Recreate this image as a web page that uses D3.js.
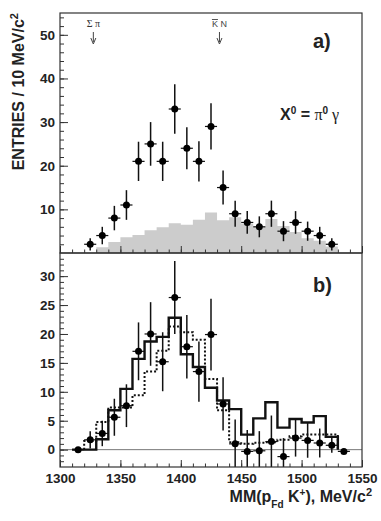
<!DOCTYPE html>
<html>
<head>
<meta charset="utf-8">
<script src="https://cdn.jsdelivr.net/npm/d3@7"></script>
<style>
  body { margin: 0; background: #fff; }
  svg { display: block; }
</style>
</head>
<body>
<div class="graph"></div>
<script>
// panel a) : data points (bin centres, entries, errors)
const aMass = [1325,1335,1345,1355,1365,1375,1385,1395,1405,1415,1425,1435,1445,1455,1465,1475,1485,1495,1505,1515,1525];
const aCounts = [2,4,8,11,21,25,21,33,24,21,29,15,9,7,6,9,5,7,5,4,2];
const aErrors = [1.4,2,2.8,3.4,4.5,5,4.5,5.7,4.8,4.6,5.3,3.9,3,2.6,2.4,3,2.3,2.6,2.2,2,1.4];

// panel a) : grey background histogram (bin low edges, contents)
const bgEdges = [1330,1340,1350,1360,1370,1380,1390,1400,1410,1420,1430,1440,1450,1460,1470,1480,1490,1500,1510,1520];
const bgValues = [1.3,2.5,3.6,4.1,5.2,5.9,6.8,6.5,7.6,9.3,7.5,8.2,6.7,6.1,7.8,6.2,4.8,3.4,2.8,1.5];

// panel b) : background subtracted points
const bMass = [1315,1325,1335,1345,1355,1365,1375,1385,1395,1405,1415,1425,1435,1445,1455,1465,1475,1485,1495,1505,1515,1525,1535];
const bCounts = [0,1.7,2.8,5.6,7.6,17.0,20.0,15.2,26.3,17.8,13.5,19.9,7.9,1.0,-0.3,-0.2,1.4,-1.2,2.0,1.6,1.15,0.75,-0.3];
const bErrors = [0,1.5,2.2,3.2,3.7,5.0,5.5,5.1,6.3,5.5,5.2,6.2,4.6,4.2,3.7,3.4,4.5,3.2,3.2,3.0,2.5,1.3,0.4];

// panel b) : solid histogram
const solidEdges = [1310,1320,1330,1340,1350,1360,1370,1380,1390,1400,1410,1420,1430,1440,1450,1460,1470,1480,1490,1500,1510,1520];
const solidValues = [0,0,1.8,6.8,10.5,15.7,18.7,19.5,22.8,16.5,14.3,10.7,8.5,7.0,2.6,5.4,8.2,3.8,5.3,4.7,5.8,2.2];

// panel b) : dotted histogram
const dotEdges = [1320,1330,1340,1350,1360,1370,1380,1390,1400,1410,1420,1430,1440,1450,1460,1470,1480,1490,1500,1510,1520];
const dotValues = [1.5,4.8,7.3,7.3,9.4,13.5,17.1,21.3,20.3,19.0,12.2,6.8,1.3,1.0,1.2,1.3,1.7,2.3,2.6,2.6,2.6];

const xTicks = [1300,1350,1400,1450,1500,1550];
const aTicks = [10,20,30,40,50];
const bTicks = [0,5,10,15,20,25,30];
const sigmaPiThr = 1327.6;
const kbarNThr = 1432;

const font = "'Liberation Sans', Arial, Helvetica, sans-serif";
const ink = "#222";

const svg = d3.select(".graph").append("svg").attr("width", 381).attr("height", 521);

const x = d3.scaleLinear().domain([1300, 1550]).range([60, 362]);
const yA = d3.scaleLinear().domain([0, 55]).range([253, 13]);
const yB = d3.scaleLinear().domain([-3, 34]).range([467, 253]).clamp(true);

const stepPoints = (edges, vals) => {
    const p = [[edges[0], 0]];
    edges.forEach((e, i) => p.push([e, vals[i]]));
    p.push([edges[edges.length - 1] + 10, 0]);
    return p;
};

// grey histogram
const bgArea = d3.area()
    .curve(d3.curveStepAfter)
    .x(d => x(d[0]))
    .y0(yA(0))
    .y1(d => yA(d[1]));
svg.append("path")
    .attr("d", bgArea(stepPoints(bgEdges, bgValues).slice(1)))
    .attr("fill", "#cccccc");

// zero line in b
svg.append("line")
    .attr("x1", 60).attr("x2", 362)
    .attr("y1", yB(0)).attr("y2", yB(0))
    .attr("stroke", "#555").attr("stroke-width", 0.8);

const stepLine = (ys) => d3.line().curve(d3.curveStepAfter).x(d => x(d[0])).y(d => ys(d[1]));

svg.append("path")
    .attr("d", stepLine(yB)(stepPoints(dotEdges, dotValues)))
    .attr("fill", "none").attr("stroke", "#111")
    .attr("stroke-width", 2).attr("stroke-dasharray", "2,2");

svg.append("path")
    .attr("d", stepLine(yB)(stepPoints(solidEdges, solidValues)))
    .attr("fill", "none").attr("stroke", "#111")
    .attr("stroke-width", 2.4);

// axes
const styleAxis = (g) => {
    g.select(".domain").remove();
    g.selectAll("line").attr("stroke", "#333");
    g.attr("font-family", font).attr("font-size", 13.5).attr("font-weight", "bold");
    g.selectAll("text").attr("fill", ink);
};

svg.append("g").attr("transform", "translate(60,0)")
    .call(d3.axisLeft(yA).tickValues(d3.range(2, 55, 2)).tickSize(-4).tickFormat(""))
    .call(styleAxis);
svg.append("g").attr("transform", "translate(60,0)")
    .call(d3.axisLeft(yA).tickValues(aTicks).tickSize(-8).tickPadding(5))
    .call(styleAxis);
svg.append("g").attr("transform", "translate(60,0)")
    .call(d3.axisLeft(yB).tickValues(d3.range(-2, 34, 1)).tickSize(-4).tickFormat(""))
    .call(styleAxis);
svg.append("g").attr("transform", "translate(60,0)")
    .call(d3.axisLeft(yB).tickValues(bTicks).tickSize(-8).tickPadding(5))
    .call(styleAxis);

[253, 467].forEach((yy, k) => {
    svg.append("g").attr("transform", "translate(0," + yy + ")")
        .call(d3.axisBottom(x).tickValues(d3.range(1310, 1550, 10)).tickSize(-3.5).tickFormat(""))
        .call(styleAxis);
    const major = d3.axisBottom(x).tickValues(xTicks).tickSize(-7).tickPadding(6)
        .tickFormat(k == 0 ? "" : d3.format("d"));
    svg.append("g").attr("transform", "translate(0," + yy + ")")
        .call(major)
        .call(styleAxis);
});

// data points with error bars
const drawPoints = (ys, xs, vs, es) => {
    const g = svg.append("g");
    xs.forEach((m, i) => {
        g.append("line")
            .attr("x1", x(m)).attr("x2", x(m))
            .attr("y1", ys(vs[i] - es[i])).attr("y2", ys(vs[i] + es[i]))
            .attr("stroke", "#111").attr("stroke-width", 1.5);
        g.append("line")
            .attr("x1", x(m - 5)).attr("x2", x(m + 5))
            .attr("y1", ys(vs[i])).attr("y2", ys(vs[i]))
            .attr("stroke", "#111").attr("stroke-width", 1.2);
        g.append("circle")
            .attr("cx", x(m)).attr("cy", ys(vs[i])).attr("r", 3.5)
            .attr("fill", "#000");
    });
};
drawPoints(yA, aMass, aCounts, aErrors);
drawPoints(yB, bMass, bCounts, bErrors);

// frames
svg.append("rect").attr("x", 60).attr("y", 13).attr("width", 302).attr("height", 240)
    .attr("fill", "none").attr("stroke", "#333").attr("stroke-width", 1.2);
svg.append("rect").attr("x", 60).attr("y", 253).attr("width", 302).attr("height", 214)
    .attr("fill", "none").attr("stroke", "#333").attr("stroke-width", 1.2);

// threshold arrows
const arrow = (m) => {
    const xx = x(m);
    svg.append("line").attr("x1", xx).attr("x2", xx).attr("y1", 32).attr("y2", 42)
        .attr("stroke", "#444").attr("stroke-width", 1);
    svg.append("path")
        .attr("d", "M" + (xx - 2.5) + ",38 L" + xx + ",44 L" + (xx + 2.5) + ",38")
        .attr("fill", "none").attr("stroke", "#444").attr("stroke-width", 1);
};
arrow(sigmaPiThr);
arrow(kbarNThr);

svg.append("text").attr("x", x(sigmaPiThr)).attr("y", 27)
    .attr("text-anchor", "middle")
    .style("font-family", "'Liberation Serif', 'Times New Roman', serif")
    .style("font-size", "10px").attr("fill", "#333")
    .text("Σ π");
const kn = svg.append("text").attr("x", x(kbarNThr)).attr("y", 27)
    .attr("text-anchor", "middle")
    .style("font-family", font)
    .style("font-size", "9px").attr("fill", "#444");
kn.append("tspan").style("text-decoration", "overline").text("K");
kn.append("tspan").text(" N");

// panel labels
svg.append("text").attr("x", 313).attr("y", 48)
    .style("font-family", font).style("font-size", "20px").style("font-weight", "bold")
    .attr("fill", ink).text("a)");
svg.append("text").attr("x", 313).attr("y", 292)
    .style("font-family", font).style("font-size", "20px").style("font-weight", "bold")
    .attr("fill", ink).text("b)");

const xl = svg.append("text").attr("x", 280).attr("y", 120)
    .style("font-family", font).style("font-size", "16px").style("font-weight", "bold")
    .attr("fill", ink);
xl.append("tspan").text("X");
xl.append("tspan").attr("dy", -6).style("font-size", "10px").text("0");
xl.append("tspan").attr("dy", 6).text(" = ");
xl.append("tspan").style("font-family", "'Liberation Serif', serif").style("font-weight", "normal").text("π");
xl.append("tspan").attr("dy", -6).style("font-size", "10px").text("0");
xl.append("tspan").attr("dy", 6).style("font-family", "'Liberation Serif', serif").style("font-weight", "normal").text(" γ");

// axis titles
const yt = svg.append("text")
    .attr("transform", "translate(24,13) rotate(-90)")
    .attr("text-anchor", "end")
    .style("font-family", font).style("font-size", "16px").style("font-weight", "bold")
    .attr("fill", ink);
yt.append("tspan").text("ENTRIES / 10 MeV/c");
yt.append("tspan").attr("dy", -6).style("font-size", "11px").text("2");

const xt = svg.append("text")
    .attr("x", 372).attr("y", 502)
    .attr("text-anchor", "end")
    .style("font-family", font).style("font-size", "16px").style("font-weight", "bold")
    .attr("fill", ink);
xt.append("tspan").text("MM(p");
xt.append("tspan").attr("dy", 6).style("font-size", "10px").text("Fd");
xt.append("tspan").attr("dy", -6).text(" K");
xt.append("tspan").attr("dy", -6).style("font-size", "10px").text("+");
xt.append("tspan").attr("dy", 6).text("), MeV/c");
xt.append("tspan").attr("dy", -6).style("font-size", "11px").text("2");
</script>
</body>
</html>
